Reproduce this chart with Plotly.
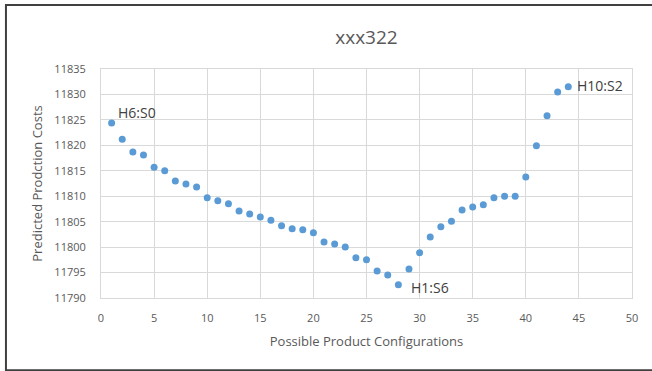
import plotly.graph_objects as go

# possible product configurations (x) and predicted costs (y)
configs = list(range(1, 45))
costs = [
    11824.4, 11821.2, 11818.7, 11818.1, 11815.7, 11815.0, 11813.0, 11812.4,
    11811.8, 11809.7, 11809.1, 11808.5, 11807.1, 11806.5, 11805.9, 11805.3,
    11804.2, 11803.6, 11803.4, 11802.8, 11801.0, 11800.6, 11800.0, 11797.9,
    11797.5, 11795.3, 11794.5, 11792.6, 11795.7, 11798.9, 11802.0, 11804.0,
    11805.1, 11807.3, 11807.9, 11808.3, 11809.7, 11810.0, 11810.0, 11813.8,
    11819.9, 11825.8, 11830.5, 11831.5,
]
# labelled points: (index into configs, text, xshift, yshift)
labels = [(0, "H6:S0", 4, 10), (27, "H1:S6", 11, -3), (43, "H10:S2", 7, 1)]

FONT = "Open Sans"
GRID = "#D9D9D9"
TEXT = "#595959"

fig = go.Figure()
fig.add_trace(
    go.Scatter(
        x=configs,
        y=costs,
        mode="markers",
        marker=dict(color="#5B9BD5", size=7),
        showlegend=False,
    )
)

for i, txt, dx, dy in labels:
    fig.add_annotation(
        x=configs[i],
        y=costs[i],
        text=txt,
        showarrow=False,
        xanchor="left",
        yanchor="middle",
        xshift=dx,
        yshift=dy,
        font=dict(family=FONT, size=14, color="#404040"),
    )

# outer chart border
fig.add_shape(
    type="rect",
    xref="paper",
    yref="paper",
    x0=-0.179,
    x1=1.045,
    y0=-0.315,
    y1=1.28,
    line=dict(color="#404040", width=2),
)

fig.update_layout(
    width=652,
    height=371,
    margin=dict(l=101, r=20, t=69, b=73, autoexpand=False),
    paper_bgcolor="white",
    plot_bgcolor="white",
    font=dict(family=FONT, color=TEXT),
    title=dict(
        text="xxx322",
        x=0.5,
        xref="paper",
        xanchor="center",
        y=0.9,
        yref="container",
        yanchor="middle",
        font=dict(size=19, color=TEXT),
    ),
    xaxis=dict(
        range=[0, 50],
        tickvals=list(range(0, 51, 5)),
        showgrid=True,
        gridcolor=GRID,
        showline=True,
        linecolor=GRID,
        mirror=True,
        zeroline=False,
        automargin=False,
        tickfont=dict(size=11, color=TEXT),
        ticks="",
        ticklabelstandoff=10,
        title=dict(
            text="Possible Product Configurations",
            font=dict(size=13, color=TEXT),
            standoff=12,
        ),
    ),
    yaxis=dict(
        range=[11790, 11835],
        tickvals=list(range(11790, 11836, 5)),
        tickformat="d",
        showgrid=True,
        gridcolor=GRID,
        showline=True,
        linecolor=GRID,
        mirror=True,
        zeroline=False,
        automargin=False,
        tickfont=dict(size=11, color=TEXT),
        ticks="",
        ticklabelstandoff=12,
        title=dict(
            text="Predicted Prodction Costs",
            font=dict(size=13, color=TEXT),
            standoff=8,
        ),
    ),
)

# drop the default page margin so the figure sits at the window origin
fig.write_html(
    "out.html",
    config={"displayModeBar": False},
    post_script="document.body.style.margin='0';",
)
